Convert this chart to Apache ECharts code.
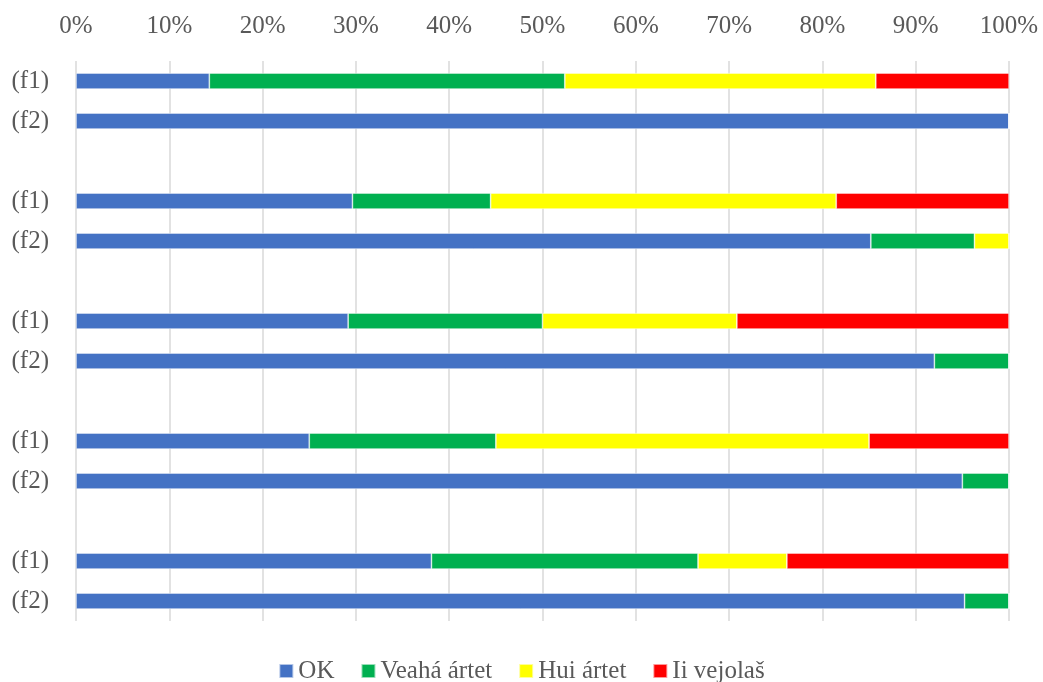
<!DOCTYPE html>
<html>
<head>
<meta charset="utf-8">
<script src="https://cdn.jsdelivr.net/npm/echarts@6/dist/echarts.min.js"></script>
<style>
html,body{margin:0;padding:0;background:#fff;}
#chart{width:1043px;height:682px;}
</style>
</head>
<body>
<div id="chart"></div>
<script>
const categories = ['(f1)','(f2)','','(f1)','(f2)','','(f1)','(f2)','','(f1)','(f2)','','(f1)','(f2)'];
const seriesNames = ['OK','Veahá ártet','Hui ártet','Ii vejolaš'];
const okValues     = [14.29, 100, null, 29.63, 85.19, null, 29.17, 92, null, 25, 95, null, 38.10, 95.24];
const veahaValues  = [38.10, 0, null, 14.81, 11.11, null, 20.83, 8, null, 20, 5, null, 28.57, 4.76];
const huiValues    = [33.33, 0, null, 37.04, 3.70, null, 20.83, 0, null, 40, 0, null, 9.52, 0];
const iiValues     = [14.29, 0, null, 18.52, 0, null, 29.17, 0, null, 15, 0, null, 23.81, 0];
const xTicks = [0,10,20,30,40,50,60,70,80,90,100];

const colors = ['#4472C4','#00B050','#FFFF00','#FF0000'];
const allValues = [okValues, veahaValues, huiValues, iiValues];
const font = '"Liberation Serif", "DejaVu Serif", serif';

const chart = echarts.init(document.getElementById('chart'));
chart.setOption({
  animation: false,
  color: colors,
  grid: {left: 76, right: 34, top: 61, bottom: 61, containLabel: false},
  legend: {
    left: 'center',
    top: 657,
    padding: 0,
    itemWidth: 14,
    itemHeight: 14,
    itemGap: 26,
    icon: 'rect',
    textStyle: {fontFamily: font, fontSize: 25, color: '#595959', lineHeight: 28},
    data: seriesNames
  },
  xAxis: {
    type: 'value',
    position: 'top',
    min: xTicks[0], max: xTicks[xTicks.length - 1], interval: 10,
    axisLine: {show: false},
    axisTick: {show: false},
    axisLabel: {formatter: '{value}%', fontFamily: font, fontSize: 25, color: '#595959', margin: 22},
    splitLine: {show: true, lineStyle: {color: '#D9D9D9', width: 1.5}}
  },
  yAxis: {
    type: 'category',
    inverse: true,
    data: categories,
    axisLine: {show: false},
    axisTick: {show: false},
    axisLabel: {fontFamily: font, fontSize: 25, color: '#595959', margin: 27}
  },
  series: allValues.map((vals, i) => ({
    name: seriesNames[i],
    type: 'bar',
    stack: 'total',
    barWidth: 16,
    data: vals,
    itemStyle: {borderColor: 'rgba(255,255,255,0.6)', borderWidth: 0.75}
  }))
});
</script>
</body>
</html>
